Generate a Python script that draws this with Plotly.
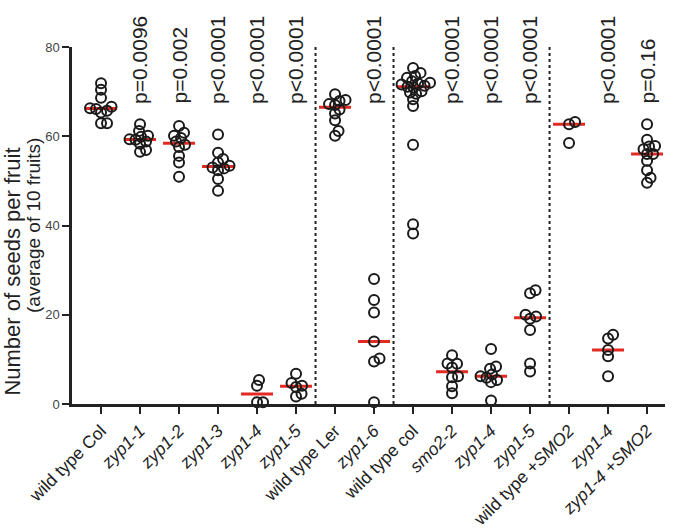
import plotly.graph_objects as go
import numpy as np

categories = ["wild type Col", "<i>zyp1-1</i>", "<i>zyp1-2</i>", "<i>zyp1-3</i>", "<i>zyp1-4</i>",
              "<i>zyp1-5</i>", "wild type Ler", "<i>zyp1-6</i>", "wild type col", "<i>smo2-2</i>",
              "<i>zyp1-4</i>", "<i>zyp1-5</i>", "wild type +<i>SMO2</i>", "<i>zyp1-4</i>",
              "<i>zyp1-4 +SMO2</i>"]

wt_col = [71.9, 70.4, 68.6, 66.1, 66.6, 65.3, 66.3, 65.7, 62.9, 62.9]
zyp1_1 = [62.7, 61.2, 59.9, 60.1, 59.3, 59.2, 58.8, 58.3, 56.5, 56.9]
zyp1_2 = [62.3, 60.8, 59.6, 60.1, 58.8, 58.1, 57.6, 55.6, 54.1, 50.9]
zyp1_3 = [60.4, 56.3, 54.9, 54.1, 52.4, 53.4, 52.8, 53.0, 50.4, 47.8]
zyp1_4a = [4.1, 5.4, 0.4, 0.4]
zyp1_5a = [6.8, 4.1, 3.8, 4.7, 1.7, 2.3]
wt_ler = [69.4, 68.1, 67.9, 67.2, 67.0, 66.0, 65.1, 63.6, 61.2, 60.1]
zyp1_6 = [28.0, 23.3, 20.5, 14.0, 10.2, 9.5, 0.4]
wt_col2 = [75.3, 74.2, 73.5, 73.1, 72.3, 72.0, 71.8, 71.3, 71.1, 70.9, 71.6, 70.1, 69.8,
           69.5, 68.3, 66.8, 58.1, 40.3, 38.2]
smo2_2 = [10.9, 8.2, 9.1, 9.0, 6.0, 6.2, 4.0, 2.4]
zyp1_4b = [12.3, 8.4, 7.9, 5.4, 6.6, 6.2, 5.9, 4.9, 0.8]
zyp1_5b = [24.8, 25.5, 20.0, 19.1, 19.6, 16.6, 9.1, 7.3]
wt_smo2 = [63.2, 62.7, 58.5]
zyp1_4c = [15.5, 14.7, 12.1, 10.7, 6.2]
zyp1_4_smo2 = [62.7, 59.2, 57.7, 57.8, 57.1, 56.0, 56.0, 54.5, 52.4, 50.7, 49.6]

groups = [wt_col, zyp1_1, zyp1_2, zyp1_3, zyp1_4a, zyp1_5a, wt_ler, zyp1_6, wt_col2,
          smo2_2, zyp1_4b, zyp1_5b, wt_smo2, zyp1_4c, zyp1_4_smo2]

p_values = ["", "p=0.0096", "p=0.002", "p<0.0001", "p<0.0001", "p<0.0001", "", "p<0.0001",
            "", "p<0.0001", "p<0.0001", "p<0.0001", "", "p<0.0001", "p=0.16"]

y_ticks = [0, 20, 40, 60, 80]
separators = [5.5, 7.5, 11.5]

FONT = "Liberation Sans, Arial, sans-serif"
PX_X = 39.0    # pixels per category unit
PX_Y = 4.46    # pixels per y unit
MIN_D = 6.0    # min distance between marker centres (px)


def beeswarm(vals):
    order = np.argsort(vals)
    placed = []
    offs = np.zeros(len(vals))
    cands = [0.0]
    for k in range(1, 60):
        cands += [k * 0.5, -k * 0.5]
    for idx in order:
        yv = vals[idx] * PX_Y
        for c in cands:
            ok = all((c - px) ** 2 + (yv - py) ** 2 >= MIN_D ** 2 for px, py in placed)
            if ok:
                break
        placed.append((c, yv))
        offs[idx] = c / PX_X
    return offs


fig = go.Figure()

for i, g in enumerate(groups):
    med = float(np.median(g))
    fig.add_trace(go.Scatter(x=[i - 0.41, i + 0.41], y=[med, med], mode="lines",
                             line=dict(color="#e02a22", width=3), showlegend=False,
                             hoverinfo="skip", cliponaxis=False))

for i, g in enumerate(groups):
    vals = np.array(g, dtype=float)
    xs = i + beeswarm(vals)
    fig.add_trace(go.Scatter(x=xs, y=vals, mode="markers",
                             marker=dict(symbol="circle-open", size=10, color="#1a1a1a",
                                         line=dict(width=2, color="#1a1a1a")),
                             showlegend=False, cliponaxis=False))

for s in separators:
    fig.add_shape(type="line", x0=s, x1=s, y0=0, y1=80, xref="x", yref="y",
                  line=dict(color="#222", width=2, dash="dot"))

for i, t in enumerate(p_values):
    if t:
        fig.add_annotation(x=i, y=0.835, xref="x", yref="paper", text=t, showarrow=False,
                           textangle=-90, xanchor="center", yanchor="bottom",
                           font=dict(family=FONT, size=21, color="#222"))

fig.add_annotation(x=-0.1, y=0.37, xref="paper", yref="paper", xanchor="center", yanchor="middle",
                   text="Number of seeds per fruit", textangle=-90, showarrow=False,
                   font=dict(family=FONT, size=22, color="#222"))
fig.add_annotation(x=-0.065, y=0.5, xref="paper", yref="paper", xanchor="center", yanchor="middle",
                   text="(average of 10 fruits)", textangle=-90, showarrow=False,
                   font=dict(family=FONT, size=19, color="#222"))

fig.update_layout(
    width=677, height=530,
    margin=dict(l=72, r=12, t=47, b=126),
    plot_bgcolor="white", paper_bgcolor="white",
    font=dict(family=FONT, color="#222"),
    xaxis=dict(range=[-0.744, 14.46], tickmode="array", tickvals=list(range(len(categories))),
               ticktext=categories, tickangle=-45, showline=True, linecolor="#222", linewidth=2.5,
               ticks="outside", ticklen=7, tickwidth=2, tickcolor="#222", showgrid=False,
               zeroline=False, automargin=False,
               tickfont=dict(family=FONT, size=17.5, color="#222")),
    yaxis=dict(range=[0, 80], tickmode="array", tickvals=y_ticks, showline=True, linecolor="#222",
               linewidth=2.5, ticks="outside", ticklen=7, tickwidth=2, tickcolor="#222",
               showgrid=False, zeroline=False, automargin=False,
               tickfont=dict(family=FONT, size=13, color="#444")),
)

fig.write_html("out.html", config={"displayModeBar": False},
               post_script="document.body.style.margin='0';")
